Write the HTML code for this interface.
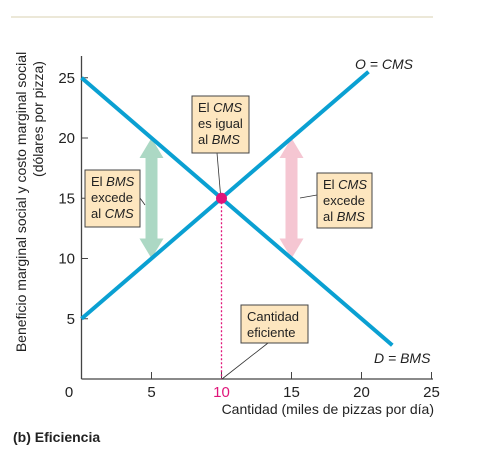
<!DOCTYPE html>
<html><head><meta charset="utf-8"><style>
html,body{margin:0;padding:0;background:#fff;}
svg{display:block;font-family:"Liberation Sans",sans-serif;}
.t{font-size:14px;fill:#222}
.tk{font-size:15px;fill:#222}
.bx{fill:#fde6bf;stroke:#444;stroke-width:1}
.bt{font-size:13px;fill:#222}
</style></head><body>
<svg id="c" width="495" height="464" viewBox="0 0 495 464">
<line x1="11" y1="17" x2="433" y2="17" stroke="#ece8d8" stroke-width="2"/>
<g id="g"></g>
</svg>
<script>
const xTicks=[0,5,10,15,20,25];
const yTicks=[5,10,15,20,25];
const demandQ=[0,22.2];
const demandP=[25,2.8];
const supplyQ=[0,20.5];
const supplyP=[5,25.5];
const eqQ=[10];
const eqP=[15];
const ns="http://www.w3.org/2000/svg";
const X=v=>81.5+v*14, Y=v=>379-v*12.05;
const g=document.getElementById('g');
function mk(t,a,txt){const e=document.createElementNS(ns,t);for(const k in a)e.setAttribute(k,a[k]);if(txt!==undefined)e.innerHTML=txt;g.appendChild(e);return e;}
let e;
function arrow(x,p1,p2,col,name){
 const y1=Y(p1),y2=Y(p2),h=20;
 e=mk('path',{d:`M${x-6},${y1+h} L${x-12},${y1+h} L${x},${y1} L${x+12},${y1+h} L${x+6},${y1+h} L${x+6},${y2-h} L${x+12},${y2-h} L${x},${y2} L${x-12},${y2-h} L${x-6},${y2-h} Z`,fill:col});
 
 
}
arrow(X(5),20,10,'#acd8c4','green-arrow-bms-exceeds');
arrow(X(15),20,10,'#f5c6d2','pink-arrow-cms-exceeds');
e=mk('line',{x1:81.5,y1:56,x2:81.5,y2:379,stroke:'#444','stroke-width':1.3});


e=mk('line',{x1:81.5,y1:379,x2:433,y2:379,stroke:'#444','stroke-width':1.3});


xTicks.forEach(v=>{
 if(v>0){e=mk('line',{x1:X(v),y1:379,x2:X(v),y2:372,stroke:'#444'});
 
 }
 e=mk('text',{x:v===0?69:X(v),y:397,'text-anchor':'middle',class:'tk',style:v===10?'fill:#e0157a':''},v);
 
 
});
yTicks.forEach(v=>{
 e=mk('line',{x1:81.5,y1:Y(v),x2:88,y2:Y(v),stroke:'#444'});
 
 
 e=mk('text',{x:75,y:Y(v)+5,'text-anchor':'end',class:'tk'},v);
 
 
});
e=mk('line',{x1:X(eqQ[0]),y1:Y(eqP[0]),x2:X(eqQ[0]),y2:379,stroke:'#e0157a','stroke-width':1.3,'stroke-dasharray':'2,2'});


e=mk('line',{x1:X(demandQ[0]),y1:Y(demandP[0]),x2:X(demandQ[1]),y2:Y(demandP[1]),stroke:'#0aa0d2','stroke-width':4});


e=mk('line',{x1:X(supplyQ[0]),y1:Y(supplyP[0]),x2:X(supplyQ[1]),y2:Y(supplyP[1]),stroke:'#0aa0d2','stroke-width':4});


[[217,153,221,200],[140,198,145,205],[317,195,300,198],[268,343,222,379]].forEach(l=>{
 e=mk('line',{x1:l[0],y1:l[1],x2:l[2],y2:l[3],stroke:'#333','stroke-width':0.8});
 
 
});
e=mk('circle',{cx:X(eqQ[0]),cy:Y(eqP[0]),r:5.5,fill:'#e0157a'});


function box(x,y,w,h,lines,name){
 e=mk('rect',{x:x,y:y,width:w,height:h,class:'bx'});
 
 
 lines.forEach((t,i)=>{e=mk('text',{x:x+6,y:y+16+i*16,class:'bt'},t);
 
 });
}
box(192,96,57,57,['El <tspan font-style="italic">CMS</tspan>','es igual','al <tspan font-style="italic">BMS</tspan>'],'cms-equals-bms-box');
box(85,170,55,57,['El <tspan font-style="italic">BMS</tspan>','excede','al <tspan font-style="italic">CMS</tspan>'],'bms-exceeds-box');
box(317,173,55,55,['El <tspan font-style="italic">CMS</tspan>','excede','al <tspan font-style="italic">BMS</tspan>'],'cms-exceeds-box');
box(241,305,67,38,['Cantidad','eficiente'],'efficient-quantity-box');
e=mk('text',{x:355,y:69,class:'t',style:'font-style:italic'},'O = CMS');


e=mk('text',{x:374,y:363,class:'t',style:'font-style:italic'},'D = BMS');


e=mk('text',{x:434,y:414,'text-anchor':'end',class:'t'},'Cantidad (miles de pizzas por día)');


e=mk('text',{x:0,y:0,'text-anchor':'middle',class:'t',transform:'translate(26,202) rotate(-90)'},'Beneficio marginal social y costo marginal social');


e=mk('text',{x:0,y:0,'text-anchor':'middle',class:'t',transform:'translate(43,119) rotate(-90)'},'(dólares por pizza)');


e=mk('text',{x:13,y:442,style:'font-size:14px;font-weight:bold;fill:#222'},'(b) Eficiencia');


</script>
</body></html>
